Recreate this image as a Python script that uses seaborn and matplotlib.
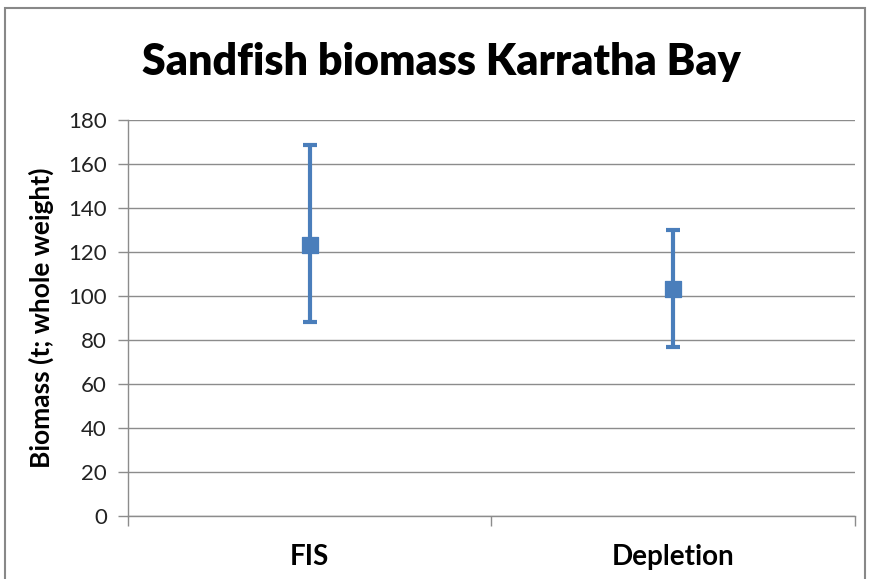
import pandas as pd
import numpy as np
import matplotlib.pyplot as plt
import seaborn as sns
from matplotlib.patches import Rectangle

# values
categories = ['FIS', 'Depletion']
biomass_mean = [123.2, 103.3]
biomass_lower = [88.3, 76.7]
biomass_upper = [168.6, 130.0]

df = pd.DataFrame({
    'Method': categories,
    'Biomass': biomass_mean,
    'Lower': biomass_lower,
    'Upper': biomass_upper,
})

sns.set_theme(style='white')
plt.rcParams['font.family'] = ['Lato', 'DejaVu Sans']
plt.rcParams['text.color'] = 'black'
plt.rcParams['axes.labelcolor'] = 'black'
plt.rcParams['xtick.labelcolor'] = 'black'
plt.rcParams['ytick.labelcolor'] = '#222222'

blue = '#4a7ebb'
grid_grey = '#8c8c8c'

fig = plt.figure(figsize=(8.69, 5.79), dpi=100)
ax = fig.add_axes([0.147, 0.109, 0.837, 0.684])

x_pos = np.arange(len(df))
ax.errorbar(x_pos, df['Biomass'],
            yerr=[df['Biomass'] - df['Lower'], df['Upper'] - df['Biomass']],
            fmt='none', ecolor=blue, elinewidth=3, capsize=5, capthick=3, zorder=3)
sns.scatterplot(data=df, x='Method', y='Biomass', marker='s', s=130,
                color=blue, edgecolor=blue, ax=ax, zorder=4, legend=False)

ax.set_ylim(0, 180)
ax.set_xlim(-0.5, 1.5)
ax.set_yticks(range(0, 181, 20))
ax.yaxis.grid(True, color=grid_grey, linewidth=1)
ax.set_axisbelow(True)

ax.set_xticks(x_pos)
ax.set_xticklabels(categories, fontsize=20, fontweight='bold')
ax.set_xticks([-0.5, 0.5, 1.5], minor=True)
ax.tick_params(axis='x', which='major', length=0, pad=20)
ax.tick_params(axis='x', which='minor', length=7, width=1, color=grid_grey, direction='out', bottom=True)
ax.tick_params(axis='y', which='major', length=7, width=1, color=grid_grey, direction='out',
               labelsize=16, pad=8, left=True)

for side in ['top', 'right']:
    ax.spines[side].set_visible(False)
for side in ['left', 'bottom']:
    ax.spines[side].set_color(grid_grey)
    ax.spines[side].set_linewidth(1)

ax.set_xlabel('')
ax.set_ylabel('Biomass (t; whole weight)', fontsize=19, fontweight='bold', labelpad=10)

fig.text(0.508, 1 - 62 / 579, 'Sandfish biomass Karratha Bay', ha='center', va='center',
         fontsize=31, fontweight='heavy')

fig.patches.append(Rectangle((5 / 869, -0.01), 860 / 869, 1 - 8 / 579 + 0.01,
                             transform=fig.transFigure, fill=False,
                             edgecolor='#888888', linewidth=1.5))

plt.savefig('out.png', dpi=100)
